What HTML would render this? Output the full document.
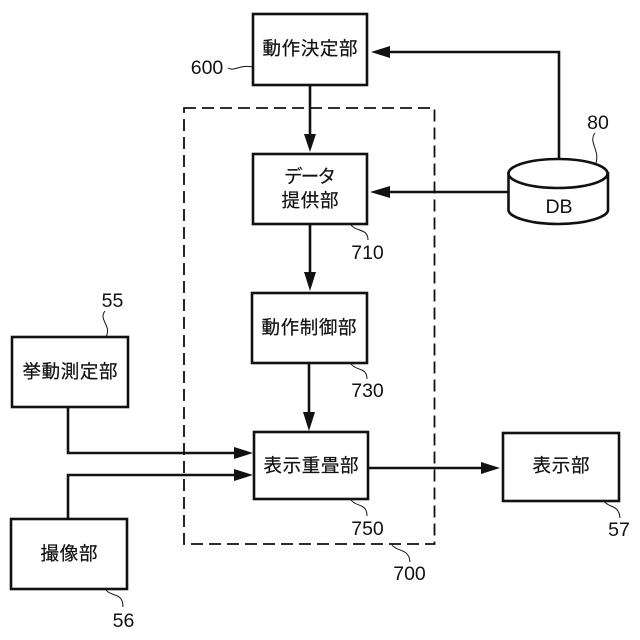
<!DOCTYPE html>
<html><head><meta charset="utf-8"><style>
html,body{margin:0;padding:0;background:#fff;width:640px;height:640px;overflow:hidden}
svg{display:block}
text{font-family:"Liberation Sans","Noto Sans CJK JP",sans-serif;fill:#111}
.j{font-size:18.5px;text-anchor:middle;stroke:#111;stroke-width:.2}
.n{font-size:19.5px;text-anchor:middle}
.b{fill:#fff;stroke:#111;stroke-width:2.6}
.l{fill:none;stroke:#111;stroke-width:2.6}
.s{fill:none;stroke:#111;stroke-width:1}
.h{fill:#111}
</style></head><body>
<svg width="640" height="640" viewBox="0 0 640 640" xmlns="http://www.w3.org/2000/svg">
<rect x="184" y="108" width="250.500" height="436" fill="none" stroke="#111" stroke-width="1.800" stroke-dasharray="12 6"/>

<path class="l" d="M310 85V135M559 160V52H390M508 192H390M310 224V273M309 363V413M68 407V453H235M68 519V475H235M368 468H482"/>
<polygon class="h" points="304,134 316,134 310,152"/>
<polygon class="h" points="371,52 390,46 390,58"/>
<polygon class="h" points="370,192 390,186 390,198"/>
<polygon class="h" points="304,272 316,272 310,291"/>
<polygon class="h" points="303,412 315,412 309,431"/>
<polygon class="h" points="234,447 234,459 253,453"/>
<polygon class="h" points="234,469 234,481 253,475"/>
<polygon class="h" points="481,462 481,474 500,468"/>

<rect class="b" x="253" y="14" width="114" height="71"/>
<rect class="b" x="253" y="154" width="114" height="70"/>
<rect class="b" x="252" y="293" width="115" height="70"/>
<rect class="b" x="254" y="432" width="114" height="67"/>
<rect class="b" x="503" y="433" width="116" height="68"/>
<rect class="b" x="12" y="337" width="116" height="70"/>
<rect class="b" x="11" y="519" width="116" height="70"/>

<path class="b" d="M508.500 172V210C508.500 217 530 224 558 224C586 224 608 217 608 210V172"/>
<ellipse class="b" cx="558" cy="173.500" rx="49.500" ry="14.500"/>

<text class="j" x="310" y="55" textLength="95" lengthAdjust="spacing">動作決定部</text>
<text class="j" x="310" y="183" textLength="52" lengthAdjust="spacing">データ</text>
<text class="j" x="310" y="207" textLength="57" lengthAdjust="spacing">提供部</text>
<text class="j" x="309" y="334" textLength="95" lengthAdjust="spacing">動作制御部</text>
<text class="j" x="311" y="472" textLength="95" lengthAdjust="spacing">表示重畳部</text>
<text class="j" x="561" y="472" textLength="57" lengthAdjust="spacing">表示部</text>
<text class="j" x="70" y="378" textLength="95" lengthAdjust="spacing">挙動測定部</text>
<text class="j" x="69" y="560" textLength="57" lengthAdjust="spacing">撮像部</text>
<text x="559" y="213" style="font-size:19.500px;text-anchor:middle">DB</text>

<text class="n" x="207" y="74">600</text>
<text class="n" x="367.500" y="259">710</text>
<text class="n" x="367.500" y="397">730</text>
<text class="n" x="367.500" y="535">750</text>
<text class="n" x="409.500" y="580">700</text>
<text class="n" x="598" y="129">80</text>
<text class="n" x="112.500" y="307">55</text>
<text class="n" x="123.500" y="627">56</text>
<text class="n" x="619" y="536">57</text>

<path class="s" d="M228 68C234 72 240 64 253 67"/>
<path class="s" d="M351 225C356 232 368 228 368 240"/>
<path class="s" d="M351 364C356 371 367 367 367 379"/>
<path class="s" d="M351 500C356 507 367 503 367 516"/>
<path class="s" d="M392 545C397 552 409 548 410 562"/>
<path class="s" d="M604 501C608 508 619 504 620 518"/>
<path class="s" d="M595 133C588 142 600 150 596 163"/>
<path class="s" d="M105 311C98 320 112 325 106 337"/>
<path class="s" d="M106 590C111 597 123 592 123 607"/>
</svg>
</body></html>
